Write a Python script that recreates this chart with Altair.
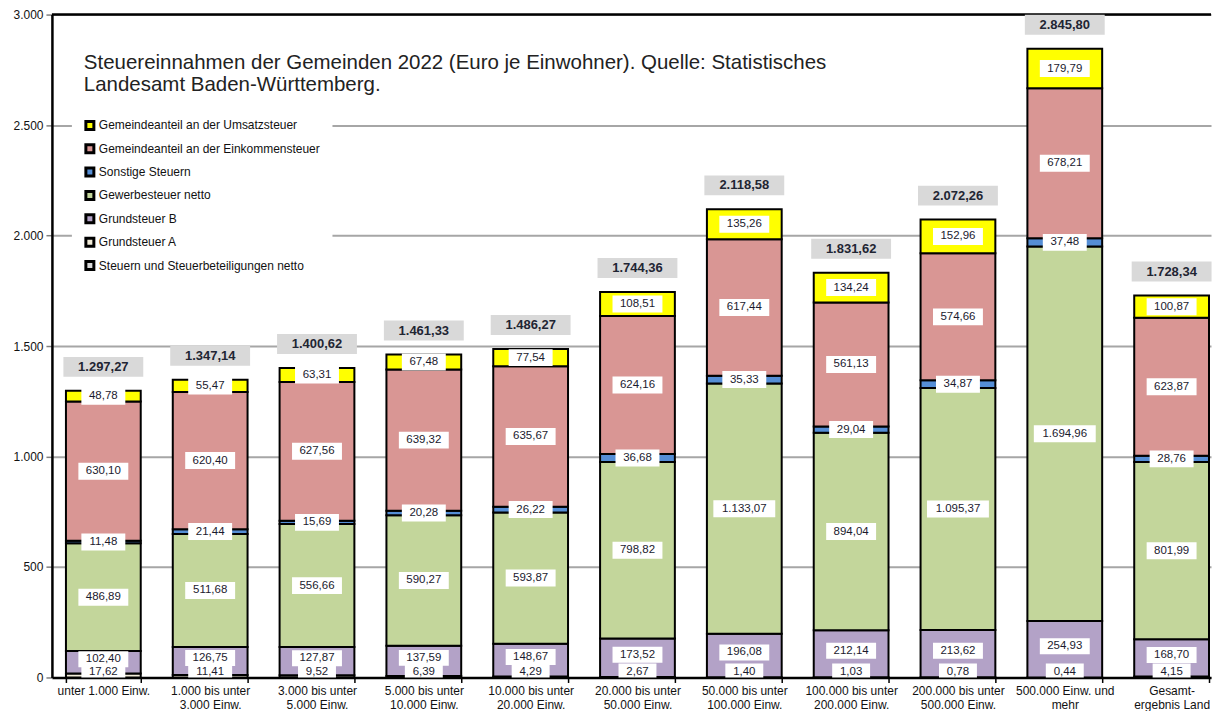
import altair as alt
import pandas as pd

CATEGORIES = [
    "unter 1.000 Einw.",
    "1.000 bis unter|3.000 Einw.",
    "3.000 bis unter|5.000 Einw.",
    "5.000 bis unter|10.000 Einw.",
    "10.000 bis unter|20.000 Einw.",
    "20.000 bis unter|50.000 Einw.",
    "50.000 bis unter|100.000 Einw.",
    "100.000 bis unter|200.000 Einw.",
    "200.000 bis unter|500.000 Einw.",
    "500.000 Einw. und|mehr",
    "Gesamt-|ergebnis Land",
]

# series from bottom to top of the stack
SERIES = [
    "Grundsteuer A",
    "Grundsteuer B",
    "Gewerbesteuer netto",
    "Sonstige Steuern",
    "Gemeindeanteil an der Einkommensteuer",
    "Gemeindeanteil an der Umsatzsteuer",
]
GRUNDSTEUER_A = [17.62, 11.41, 9.52, 6.39, 4.29, 2.67, 1.40, 1.03, 0.78, 0.44, 4.15]
GRUNDSTEUER_B = [102.40, 126.75, 127.87, 137.59, 148.67, 173.52, 196.08, 212.14, 213.62, 254.93, 168.70]
GEWERBESTEUER = [486.89, 511.68, 556.66, 590.27, 593.87, 798.82, 1133.07, 894.04, 1095.37, 1694.96, 801.99]
SONSTIGE = [11.48, 21.44, 15.69, 20.28, 26.22, 36.68, 35.33, 29.04, 34.87, 37.48, 28.76]
EINKOMMENSTEUER = [630.10, 620.40, 627.56, 639.32, 635.67, 624.16, 617.44, 561.13, 574.66, 678.21, 623.87]
UMSATZSTEUER = [48.78, 55.47, 63.31, 67.48, 77.54, 108.51, 135.26, 134.24, 152.96, 179.79, 100.87]

TOTAL_NAME = "Steuern und Steuerbeteiligungen netto"
TOTALS = [1297.27, 1347.14, 1400.62, 1461.33, 1486.27, 1744.36, 2118.58, 1831.62, 2072.26, 2845.80, 1728.34]

TITLE_LINES = [
    "Steuereinnahmen der Gemeinden 2022 (Euro je Einwohner). Quelle: Statistisches",
    "Landesamt Baden-Württemberg.",
]

LEGEND_ORDER = [
    "Gemeindeanteil an der Umsatzsteuer",
    "Gemeindeanteil an der Einkommensteuer",
    "Sonstige Steuern",
    "Gewerbesteuer netto",
    "Grundsteuer B",
    "Grundsteuer A",
    TOTAL_NAME,
]
LEGEND_COLORS = ["#ffff00", "#d99694", "#558ed5", "#c3d69b", "#b3a2c7", "#f2ecd9", "#d9d9d9"]


def de(v):
    s = f"{v:,.2f}"
    return s.replace(",", "#").replace(".", ",").replace("#", ".")


values = [GRUNDSTEUER_A, GRUNDSTEUER_B, GEWERBESTEUER, SONSTIGE, EINKOMMENSTEUER, UMSATZSTEUER]
rows = []
for ci, cat in enumerate(CATEGORIES):
    lo = 0.0
    for si, name in enumerate(SERIES):
        v = values[si][ci]
        rows.append({"cat": cat, "series": name, "idx": si, "value": v,
                     "lo": lo, "hi": lo + v, "mid": lo + v / 2, "label": de(v)})
        lo += v
df = pd.DataFrame(rows)
tot = pd.DataFrame({"cat": CATEGORIES, "total": TOTALS, "series": TOTAL_NAME,
                    "label": [de(t) for t in TOTALS]})

FONT = "Liberation Sans"

x_enc = alt.X(
    "cat:N", sort=CATEGORIES, title=None,
    scale=alt.Scale(paddingInner=0.3, paddingOuter=0.075, align=0.875),
    axis=alt.Axis(labelExpr="split(datum.label, '|')", labelAngle=0, labelFontSize=12,
                  labelColor="#111111", labelLineHeight=14, labelPadding=3,
                  tickBand="extent", tickSize=5, tickColor="#000000", tickWidth=1.5,
                  domainColor="#000000", domainWidth=2.5, grid=False),
)
y_scale = alt.Scale(domain=[0, 3000], nice=False)
y_axis = alt.Axis(values=[0, 500, 1000, 1500, 2000, 2500, 3000],
                  labelExpr="replace(format(datum.value, ','), ',', '.')",
                  labelFontSize=12, labelColor="#111111", labelPadding=3,
                  tickSize=6, tickColor="#808080", tickWidth=1.5,
                  domainColor="#000000", domainWidth=2.5,
                  grid=True, gridColor="#a6a6a6", gridWidth=2)

color_enc = alt.Color(
    "series:N",
    scale=alt.Scale(domain=LEGEND_ORDER, range=LEGEND_COLORS),
    legend=alt.Legend(orient="none", legendX=20, legendY=93, title=None,
                      symbolType="square", symbolSize=64, symbolStrokeColor="#000000",
                      symbolStrokeWidth=3, labelFontSize=12, labelColor="#111111",
                      labelLimit=400, rowPadding=3.4, fillColor="white", padding=12,
                      labelOffset=3),
)

bars = alt.Chart(df).mark_bar(stroke="#000000", strokeWidth=2).encode(
    x=x_enc,
    y=alt.Y("lo:Q", scale=y_scale, axis=y_axis, title=None),
    y2="hi:Q",
    color=color_enc,
    order=alt.Order("idx:Q"),
)

top_rule = alt.Chart(pd.DataFrame({"top": [3000]})).mark_rule(
    color="#000000", strokeWidth=2.5
).encode(y=alt.Y("top:Q", scale=y_scale))

main_lab = df[~df["series"].isin(["Grundsteuer A", "Grundsteuer B"])]
b_lab = df[df["series"] == "Grundsteuer B"]
a_lab = df[df["series"] == "Grundsteuer A"]


def label_layers(data, yfield, box_off, txt_off, thick=17):
    base = alt.Chart(data).transform_calculate(boxw="length(datum.label) * 6 + 14")
    box = base.mark_tick(color="white", opacity=1, thickness=thick, yOffset=box_off).encode(
        x=alt.X("cat:N", sort=CATEGORIES),
        y=alt.Y(f"{yfield}:Q", scale=y_scale),
        size=alt.Size("boxw:Q", scale=None, legend=None),
    )
    txt = base.mark_text(fontSize=11.5, color="#1a1a2e", yOffset=txt_off, baseline="middle").encode(
        x=alt.X("cat:N", sort=CATEGORIES),
        y=alt.Y(f"{yfield}:Q", scale=y_scale),
        text="label:N",
    )
    return [box, txt]


tot_box = alt.Chart(tot).mark_tick(opacity=1, thickness=20, size=80, yOffset=-24).encode(
    x=alt.X("cat:N", sort=CATEGORIES),
    y=alt.Y("total:Q", scale=y_scale),
    color=alt.Color("series:N", scale=alt.Scale(domain=LEGEND_ORDER, range=LEGEND_COLORS)),
)
tot_txt = alt.Chart(tot).mark_text(fontSize=13, fontWeight="bold", color="#1f2533",
                                   yOffset=-24, baseline="middle").encode(
    x=alt.X("cat:N", sort=CATEGORIES),
    y=alt.Y("total:Q", scale=y_scale),
    text="label:N",
)

title = alt.Chart(pd.DataFrame({"t": ["\n".join(TITLE_LINES)]})).mark_text(
    align="left", baseline="top", fontSize=20.5, lineHeight=22, lineBreak="\n",
    color="#222222",
).encode(x=alt.value(32), y=alt.value(39), text="t:N")

chart = alt.layer(
    bars, top_rule,
    *label_layers(main_lab, "mid", 0, 0),
    *label_layers(b_lab, "mid", -3, -3, 16),
    *label_layers(a_lab, "lo", -7, -5, 14),
    tot_box, tot_txt, title,
).properties(
    width=1161, height=664,
    padding={"left": 4, "top": 0, "right": 0, "bottom": 0},
).configure(font=FONT).configure_view(stroke=None)

chart.save("out.html", embed_options={"renderer": "svg", "actions": False})
